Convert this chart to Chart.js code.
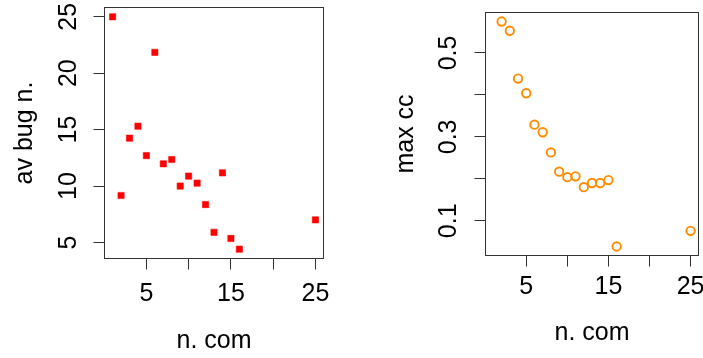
<!DOCTYPE html>
<html><head><meta charset="utf-8">
<script src="https://cdn.jsdelivr.net/npm/chart.js@4.4.1/dist/chart.umd.min.js"></script>
<style>
html,body{margin:0;padding:0;width:703px;height:358px;overflow:hidden;background:#fff;}
#l{position:absolute;left:0;top:0;}
#r{position:absolute;left:352px;top:0;}
</style></head><body>
<canvas id="l" width="352" height="358"></canvas>
<canvas id="r" width="380" height="358"></canvas>
<script>
// ---- data ----
const bugX = [1, 2, 3, 4, 5, 6, 7, 8, 9, 10, 11, 12, 13, 14, 15, 16, 25];
const bugY = [25.0, 9.16, 14.24, 15.3, 12.7, 21.85, 11.97, 12.35, 10.0, 10.88, 10.26, 8.36, 5.9, 11.17, 5.35, 4.4, 7.0];
const ccX = [2, 3, 4, 5, 6, 7, 8, 9, 10, 11, 12, 13, 14, 15, 16, 25];
const ccY = [0.575, 0.553, 0.439, 0.404, 0.329, 0.311, 0.263, 0.217, 0.204, 0.206, 0.18, 0.19, 0.19, 0.197, 0.0387, 0.076];
const xTicks = [5, 10, 15, 20, 25];
const xTickLabels = ['5', '', '15', '', '25'];
const bugTicks = [5, 10, 15, 20, 25];
const bugTickLabels = ['5', '10', '15', '20', '25'];
const ccTicks = [0.1, 0.2, 0.3, 0.4, 0.5];
const ccTickLabels = ['0.1', '', '0.3', '', '0.5'];
const xTitle = 'n. com';
const bugTitle = 'av bug n.';
const ccTitle = 'max cc';
const xRange = [0.04, 25.96];
const bugRange = [3.576, 25.824];
const ccRange = [0.0172, 0.5965];

const FONT = {family: '"Liberation Sans", Arial, Helvetica, sans-serif', size: 25, lineHeight: 1.2};
const INK = '#000';

const boxPlugin = {
  id: 'box',
  afterDatasetsDraw(chart) {
    const {ctx, chartArea: a} = chart;
    ctx.save();
    ctx.strokeStyle = '#333';
    ctx.lineWidth = 1;
    ctx.strokeRect(a.left, a.top, a.right - a.left, a.bottom - a.top);
    ctx.restore();
  }
};

function makeChart(id, g, xs, ys, yTicks, yLabels, yRange, yTitle, ds) {
  const cv = document.getElementById(id);
  const W = cv.width, H = cv.height;
  const pts = xs.map((x, i) => ({x: x, y: ys[i]}));
  return new Chart(cv, {
    type: 'scatter',
    data: {datasets: [Object.assign({data: pts}, ds)]},
    options: {
      responsive: false,
      animation: false,
      events: [],
      layout: {padding: {left: 0, top: g.T, right: W - g.R, bottom: 0}},
      plugins: {legend: {display: false}, tooltip: {enabled: false}},
      scales: {
        x: {
          type: 'linear', position: 'bottom', min: xRange[0], max: xRange[1],
          afterBuildTicks: s => { s.ticks = xTicks.map(v => ({value: v})); },
          afterFit: s => { s.height = H - g.B; s.paddingLeft = 0; s.paddingRight = 0; s.paddingTop = 0; s.paddingBottom = 0; },
          grid: {display: true, drawOnChartArea: false, drawTicks: true, tickLength: 11, tickColor: '#333', tickWidth: 1},
          border: {display: false},
          ticks: {autoSkip: false, maxRotation: 0, minRotation: 0, padding: g.xtp, color: INK, font: FONT,
                  callback: (v, i) => xTickLabels[i]},
          title: {display: true, text: xTitle, color: INK, font: FONT, padding: {top: 0, bottom: g.xtt}}
        },
        y: {
          type: 'linear', position: 'left', min: yRange[0], max: yRange[1],
          afterBuildTicks: s => { s.ticks = yTicks.map(v => ({value: v})); },
          afterFit: s => { s.width = g.L; s.paddingLeft = 0; s.paddingRight = 0; s.paddingTop = 0; s.paddingBottom = 0; },
          grid: {display: true, drawOnChartArea: false, drawTicks: true, tickLength: 11, tickColor: '#333', tickWidth: 1},
          border: {display: false},
          ticks: {autoSkip: false, minRotation: 90, maxRotation: 90, crossAlign: 'center', padding: g.ytp, color: INK, font: FONT,
                  callback: (v, i) => yLabels[i]},
          title: {display: true, text: yTitle, color: INK, font: FONT, padding: {top: g.ytt, bottom: 0}}
        }
      }
    },
    plugins: [boxPlugin]
  });
}

makeChart('l', {L: 104.5, T: 7.5, R: 323.5, B: 258.5, xtp: 10, xtt: 2.3, ytp: 10.9, ytt: 10},
  bugX, bugY, bugTicks, bugTickLabels, bugRange, bugTitle,
  {pointStyle: 'rect', pointRadius: 4.4, backgroundColor: '#FF0000', borderColor: '#FF0000', borderWidth: 0.6});

makeChart('r', {L: 133.5, T: 12.5, R: 346.5, B: 255.5, xtp: 6, xtt: 9.6, ytp: 7.6, ytt: 39.4},
  ccX, ccY, ccTicks, ccTickLabels, ccRange, ccTitle,
  {pointStyle: 'circle', pointRadius: 4.2, backgroundColor: 'rgba(0,0,0,0)', borderColor: '#FF8C00', borderWidth: 1.9});
</script>
</body></html>
